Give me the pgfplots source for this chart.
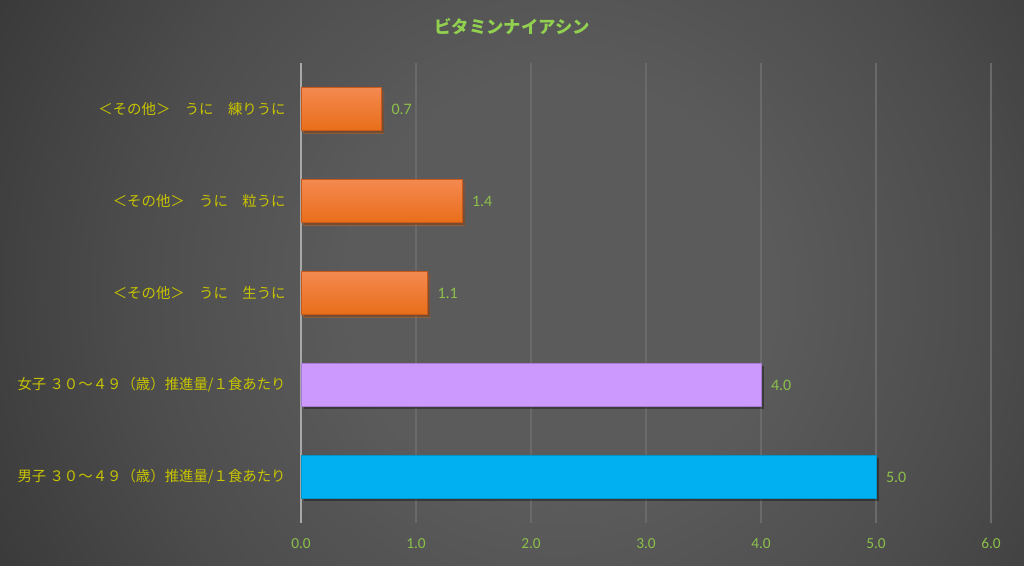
\documentclass[border=0pt]{standalone}
\usepackage{pgfplots}
\pgfplotsset{compat=1.18}
\usepackage{fontspec}
\setmainfont{Carlito}
\newfontfamily\jp{Noto Sans CJK JP}
\definecolor{bgA}{HTML}{5B5B5B}
\definecolor{bgB}{HTML}{4D4D4D}
\definecolor{bgC}{HTML}{363636}
\definecolor{bgD}{HTML}{272727}
\definecolor{bgE}{HTML}{222222}
\definecolor{gridc}{HTML}{6A6A6A}
\definecolor{axc}{HTML}{A8A8A8}
\definecolor{ylab}{HTML}{C8C400}
\definecolor{tickg}{HTML}{8CC04A}
\definecolor{titleg}{HTML}{92D050}
\definecolor{orT}{HTML}{F4894F}
\definecolor{orB}{HTML}{E86E1A}
\definecolor{orE}{HTML}{C9591A}
\definecolor{lav}{HTML}{CC99FF}
\definecolor{lavE}{HTML}{A87CD6}
\definecolor{cy}{HTML}{00B0F0}
\definecolor{cyE}{HTML}{0094CC}
\pgfdeclareradialshading{bgshade}{\pgfpoint{0bp}{0bp}}{color(0bp)=(bgA); color(7.6bp)=(bgA); color(15bp)=(bgB); color(24bp)=(bgC); color(32bp)=(bgD); color(50bp)=(bgE)}
\tikzset{barshadow/.style={preaction={fill=black, fill opacity=0.35, draw=none, transform canvas={xshift=2pt, yshift=-2pt}}}}
\tikzset{orbar/.style={xbar, top color=orT, bottom color=orB, draw=orE, barshadow}}
\begin{document}
\begin{tikzpicture}
\useasboundingbox (0,0) rectangle (768pt,423.75pt);
\begin{scope}
\clip (0,0) rectangle (768pt,423.75pt);
\shade[shading=bgshade] (-105pt,-318.75pt) rectangle (945pt,731.25pt);
\end{scope}
\node[font=\jp\bfseries\fontsize{13}{15}\selectfont, text=titleg] at (384pt,403.5pt) {ビタミンナイアシン};
\begin{axis}[
  at={(225.75pt,31.5pt)}, anchor=south west, scale only axis,
  width=517.5pt, height=345pt,
  xmin=0, xmax=6, ymin=-0.5, ymax=4.5,
  xtick={0,1,2,3,4,5,6}, ytick={0,1,2,3,4},
  yticklabels={男子 ３０～４９（歳）推進量/１食あたり, 女子 ３０～４９（歳）推進量/１食あたり, ＜その他＞　うに　生うに, ＜その他＞　うに　粒うに, ＜その他＞　うに　練りうに},
  xmajorgrids, grid style={draw=gridc, line width=0.8pt},
  axis line style={draw=none}, major tick length=0pt, tick style={draw=none},
  xticklabel style={font=\fontsize{11.5}{13}\selectfont, text=tickg, yshift=-8pt,
    /pgf/number format/.cd, fixed, fixed zerofill, precision=1, assume math mode=true},
  yticklabel style={font=\jp\fontsize{10.8}{12}\selectfont, text=ylab, xshift=-8pt},
  xbar, bar width=32pt, bar shift=0pt,
  point meta=x,
  nodes near coords={\pgfmathprintnumber[fixed,fixed zerofill,precision=1,assume math mode=true]{\pgfplotspointmeta}},
  nodes near coords style={font=\fontsize{12}{14}\selectfont, text=tickg, anchor=west, xshift=4pt},
  clip=false,
]
\draw[axc, line width=1pt] (axis cs:0,-0.5) -- (axis cs:0,4.5);
\addplot[xbar, fill=cy, draw=cyE, barshadow] coordinates {(5.0,0)};
\addplot[xbar, fill=lav, draw=lavE, barshadow] coordinates {(4.0,1)};
\addplot[orbar] coordinates {(1.1,2)};
\addplot[orbar] coordinates {(1.4,3)};
\addplot[orbar] coordinates {(0.7,4)};
\end{axis}
\end{tikzpicture}
\end{document}
